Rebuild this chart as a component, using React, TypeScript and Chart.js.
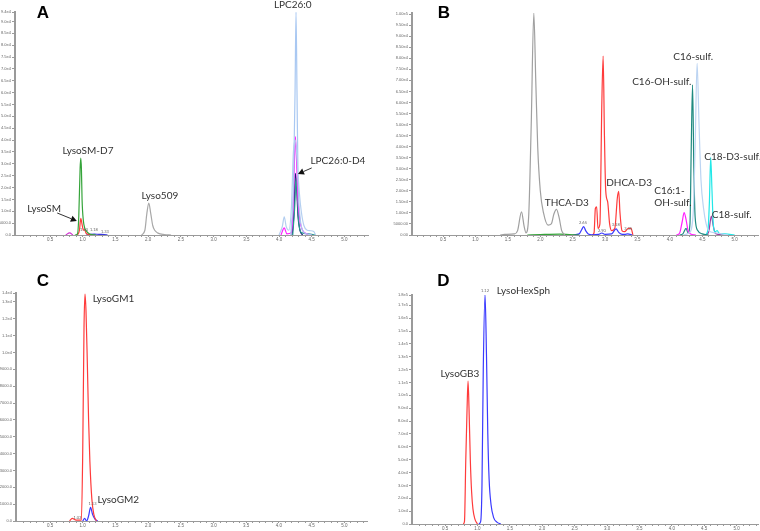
import React, { useEffect, useRef } from 'react';
import { Chart, registerables } from 'chart.js';
Chart.register(...registerables);

type P = [number, number][];

// ---------- Panel A traces (retention time min, intensity) ----------
const A_lpc26_broad: P = [[4.0,0],[4.05,3500],[4.08,7700],[4.11,3500],[4.15,2000],[4.19,12000],[4.22,35000],[4.25,40000],[4.28,30000],[4.31,18000],[4.34,10000],[4.38,4000],[4.43,2000],[4.48,1800],[4.53,1500],[4.56,0]];
const A_lpc26: P = [[4.18,0],[4.22,20000],[4.245,60000],[4.26,94000],[4.275,60000],[4.29,25000],[4.32,8000],[4.36,2000],[4.42,500],[4.5,0]];
const A_lysoSMD7: P = [[0.88,0],[0.92,500],[0.94,8000],[0.96,28000],[0.97,32400],[0.98,28000],[0.99,15000],[1.01,6000],[1.03,3000],[1.06,1500],[1.1,500],[1.15,100],[1.2,0]];
const A_lysoSM: P = [[0.92,0],[0.95,2000],[0.97,7000],[0.99,4500],[1.01,2000],[1.03,2300],[1.05,800],[1.1,200],[1.15,0]];
const A_magentaLow: P = [[0.74,0],[0.8,900],[0.85,0]];
const A_blueLow: P = [[1.05,0],[1.12,300],[1.18,400],[1.25,250],[1.33,200],[1.38,0]];
const A_lyso509: P = [[1.9,0],[1.95,2000],[1.98,9000],[2.01,13400],[2.04,9000],[2.07,4000],[2.1,2000],[2.15,800],[2.25,200],[2.35,0]];
const A_magenta: P = [[4.03,0],[4.08,3000],[4.12,500],[4.19,1000],[4.22,15000],[4.25,41500],[4.27,30000],[4.29,15000],[4.32,6000],[4.36,2000],[4.42,500],[4.5,0]];
const A_lpcD4: P = [[4.2,0],[4.23,10000],[4.25,26000],[4.27,20000],[4.29,8000],[4.32,2000],[4.36,0]];
const A_teal: P = [[4.21,0],[4.24,12000],[4.26,24000],[4.28,16000],[4.3,6000],[4.34,1000],[4.45,500],[4.55,0]];

// ---------- Panel B traces ----------
const B_gray: P = [[1.38,0],[1.45,300],[1.6,500],[1.65,2000],[1.71,10500],[1.75,4000],[1.78,1000],[1.82,8000],[1.86,50000],[1.9,100500],[1.93,70000],[1.96,40000],[2.0,20000],[2.05,10000],[2.12,4500],[2.17,5000],[2.21,9500],[2.25,11600],[2.29,8000],[2.33,2000],[2.38,0]];
const B_green: P = [[1.8,0],[2.0,200],[2.3,400],[2.45,200],[2.6,0]];
const B_blue: P = [[2.5,0],[2.6,500],[2.64,2500],[2.67,3800],[2.7,2000],[2.74,500],[2.8,100],[2.9,300],[2.95,900],[3.0,300],[3.1,500],[3.17,2800],[3.21,1200],[3.25,400],[3.3,300],[3.35,500],[3.42,0]];
const B_red: P = [[2.8,0],[2.83,1000],[2.85,12000],[2.87,12800],[2.89,3000],[2.92,5000],[2.95,60000],[2.97,81000],[2.99,45000],[3.01,20000],[3.04,15000],[3.07,5000],[3.1,2000],[3.15,3000],[3.19,17000],[3.21,19800],[3.23,10000],[3.26,2000],[3.3,1500],[3.36,3000],[3.4,3000],[3.43,0]];
const B_c16sulf: P = [[4.2,0],[4.3,1000],[4.36,10000],[4.39,40000],[4.42,77700],[4.45,50000],[4.48,25000],[4.52,12000],[4.56,5000],[4.6,2000],[4.7,1000],[4.8,500],[4.9,0]];
const B_c161oh: P = [[4.1,0],[4.15,800],[4.19,6000],[4.22,10100],[4.25,7000],[4.28,2000],[4.32,500],[4.4,0]];
const B_c16oh: P = [[4.15,0],[4.2,500],[4.25,3000],[4.28,1000],[4.31,5000],[4.33,40000],[4.35,68000],[4.37,30000],[4.39,8000],[4.43,2000],[4.5,500],[4.6,0]];
const B_c18d3: P = [[4.55,0],[4.59,3000],[4.61,15000],[4.63,35100],[4.65,20000],[4.67,5000],[4.7,1500],[4.73,2000],[4.76,800],[4.85,500],[5.0,0]];
const B_c18: P = [[4.55,0],[4.6,1500],[4.64,8500],[4.67,4000],[4.7,800],[4.75,300],[4.85,0]];

// ---------- Panel C traces ----------
const C_lysoGM1: P = [[0.8,0],[0.84,150],[0.9,50],[0.98,50],[1.0,4000],[1.02,11500],[1.035,13470],[1.05,12500],[1.07,9500],[1.09,6000],[1.11,3500],[1.14,1300],[1.17,400],[1.21,0]];
const C_lysoGM2: P = [[1.0,0],[1.03,150],[1.06,0],[1.09,300],[1.12,810],[1.15,400],[1.19,100],[1.23,0]];

// ---------- Panel D traces ----------
const D_lysoGB3: P = [[0.78,0],[0.8,2000],[0.82,50000],[0.84,90000],[0.855,111000],[0.87,90000],[0.89,50000],[0.91,25000],[0.93,12000],[0.96,4000],[1.0,0]];
const D_lysoHexSph: P = [[1.02,0],[1.05,2000],[1.07,30000],[1.09,120000],[1.117,178600],[1.14,130000],[1.16,70000],[1.18,35000],[1.21,15000],[1.25,5000],[1.3,1500],[1.36,0]];

// ---------- Tick values ----------
const A_YTICKS = [0,5000,10000,15000,20000,25000,30000,35000,40000,45000,50000,55000,60000,65000,70000,75000,80000,85000,90000,94000];
const B_YTICKS = [0,5000,10000,15000,20000,25000,30000,35000,40000,45000,50000,55000,60000,65000,70000,75000,80000,85000,90000,95000,100000];
const C_YTICKS = [0,1000,2000,3000,4000,5000,6000,7000,8000,9000,10000,11000,12000,13000,13530];
const D_YTICKS = [0,10000,20000,30000,40000,50000,60000,70000,80000,90000,100000,110000,120000,130000,140000,150000,160000,170000,178000];
const X_LABELS = [0.5,1.0,1.5,2.0,2.5,3.0,3.5,4.0,4.5,5.0];

interface Trace { data: P; color: string; }
interface Note { text: string; x: number; y: number; size?: number; align?: CanvasTextAlign; color?: string; }
interface Arrow { x1: number; y1: number; x2: number; y2: number; }
interface Panel {
  letter: string; letterX: number; letterY: number;
  left: number; top: number; w: number; h: number;
  yW: number; padTop: number; padRight: number; xH: number;
  xMin: number; xMax: number; yMax: number; yTicks: number[]; dec: number;
  traces: Trace[]; notes: Note[]; arrows: Arrow[];
}

const fmt = (d: number) => (v: number) => {
  if (v < 10000) return v.toFixed(d);
  const e = Math.floor(Math.log10(v) + 1e-9);
  return (v / Math.pow(10, e)).toFixed(d) + 'e' + e;
};

const PANELS: Panel[] = [
  {
    letter: 'A', letterX: 43, letterY: 18,
    left: 0, top: 0, w: 380, h: 265, yW: 15, padTop: 12, padRight: 12, xH: 30,
    xMin: -0.035, xMax: 5.36, yMax: 94000, yTicks: A_YTICKS, dec: 1,
    traces: [
      { data: A_lpc26_broad, color: '#b4cff0' },
      { data: A_lpc26, color: '#a9c8f2' },
      { data: A_lyso509, color: '#a8a8a8' },
      { data: A_lysoSMD7, color: '#35a43a' },
      { data: A_lysoSM, color: '#ff3b3b' },
      { data: A_magentaLow, color: '#d030d0' },
      { data: A_blueLow, color: '#3a3ae0' },
      { data: A_magenta, color: '#ff20ff' },
      { data: A_teal, color: '#2a9d8f' },
      { data: A_lpcD4, color: '#1c1c7a' },
    ],
    notes: [
      { text: 'LPC26:0', x: 4.21, y: 97000 },
      { text: 'LysoSM-D7', x: 1.08, y: 35440 },
      { text: 'Lyso509', x: 2.18, y: 16460 },
      { text: 'LysoSM', x: 0.41, y: 10970 },
      { text: 'LPC26:0-D4', x: 4.9, y: 31220 },
      { text: '1.10', x: 1.02, y: 2100, size: 4, color: '#666' },
      { text: '1.18', x: 1.17, y: 2100, size: 4, color: '#666' },
      { text: '1.33', x: 1.34, y: 1300, size: 4, color: '#666' },
    ],
    arrows: [
      { x1: 0.61, y1: 9280, x2: 0.91, y2: 5900 },
      { x1: 4.5, y1: 28270, x2: 4.29, y2: 25740 },
    ],
  },
  {
    letter: 'B', letterX: 64, letterY: 18,
    left: 380, top: 0, w: 380, h: 265, yW: 32, padTop: 13, padRight: 2, xH: 30,
    xMin: 0.02, xMax: 5.36, yMax: 100500, yTicks: B_YTICKS, dec: 2,
    traces: [
      { data: B_gray, color: '#a0a0a0' },
      { data: B_green, color: '#35a43a' },
      { data: B_c16sulf, color: '#bcd4f2' },
      { data: B_blue, color: '#3a3aff' },
      { data: B_red, color: '#ff3b3b' },
      { data: B_c161oh, color: '#ff20ff' },
      { data: B_c16oh, color: '#1f8a80' },
      { data: B_c18d3, color: '#22e8e8' },
      { data: B_c18, color: '#a03ca0' },
    ],
    notes: [
      { text: 'THCA-D3', x: 2.41, y: 14480 },
      { text: 'DHCA-D3', x: 3.37, y: 23530 },
      { text: 'C16-OH-sulf.', x: 3.875, y: 69230 },
      { text: 'C16-sulf.', x: 4.36, y: 80540 },
      { text: 'C18-D3-sulf.', x: 4.97, y: 35290 },
      { text: 'C16:1-', x: 3.76, y: 19910, align: 'left' },
      { text: 'OH-sulf.', x: 3.76, y: 14480, align: 'left' },
      { text: 'C18-sulf.', x: 4.955, y: 9050 },
      { text: '2.65', x: 2.66, y: 5570, size: 4, color: '#666' },
      { text: '2.90', x: 2.95, y: 1950, size: 4, color: '#666' },
      { text: '3.18', x: 3.165, y: 4520, size: 4, color: '#666' },
      { text: '3.35', x: 3.355, y: 2850, size: 4, color: '#666' },
    ],
    arrows: [],
  },
  {
    letter: 'C', letterX: 43, letterY: 21,
    left: 0, top: 265, w: 380, h: 266, yW: 16, padTop: 28, padRight: 13, xH: 10,
    xMin: -0.02, xMax: 5.347, yMax: 13530, yTicks: C_YTICKS, dec: 1,
    traces: [
      { data: C_lysoGM1, color: '#ff3b3b' },
      { data: C_lysoGM2, color: '#3a3aff' },
    ],
    notes: [
      { text: 'LysoGM1', x: 1.47, y: 13210 },
      { text: 'LysoGM2', x: 1.544, y: 1280 },
      { text: '1.03', x: 0.92, y: 220, size: 4, color: '#666' },
      { text: '1.13', x: 1.15, y: 1000, size: 4, color: '#666' },
    ],
    arrows: [],
  },
  {
    letter: 'D', letterX: 63.5, letterY: 21,
    left: 380, top: 265, w: 380, h: 266, yW: 32, padTop: 30, padRight: 2, xH: 7,
    xMin: -0.01, xMax: 5.33, yMax: 178000, yTicks: D_YTICKS, dec: 1,
    traces: [
      { data: D_lysoGB3, color: '#ff3b3b' },
      { data: D_lysoHexSph, color: '#3a3aff' },
    ],
    notes: [
      { text: 'LysoGB3', x: 0.73, y: 116770 },
      { text: 'LysoHexSph', x: 1.71, y: 181200 },
      { text: '1.12', x: 1.117, y: 181000, size: 4, color: '#666' },
    ],
    arrows: [],
  },
];

function PanelChart({ p }: { p: Panel }) {
  const ref = useRef<HTMLCanvasElement>(null);
  useEffect(() => {
    const notesPlugin = {
      id: 'notes',
      afterDraw(chart: any) {
        const ctx = chart.ctx as CanvasRenderingContext2D;
        const xs = chart.scales.x, ys = chart.scales.y;
        ctx.save();
        ctx.fillStyle = '#000';
        ctx.font = 'bold 17px "Liberation Sans", Arial, sans-serif';
        ctx.textAlign = 'center';
        ctx.textBaseline = 'alphabetic';
        ctx.fillText(p.letter, p.letterX, p.letterY);
        for (const n of p.notes) {
          ctx.font = `${n.size ?? 10}px Lato, "Open Sans", sans-serif`;
          ctx.fillStyle = n.color ?? '#333';
          ctx.textAlign = n.align ?? 'center';
          ctx.textBaseline = 'middle';
          ctx.fillText(n.text, xs.getPixelForValue(n.x), ys.getPixelForValue(n.y));
        }
        ctx.strokeStyle = '#333';
        ctx.fillStyle = '#111';
        ctx.lineWidth = 1;
        for (const a of p.arrows) {
          const x1 = xs.getPixelForValue(a.x1), y1 = ys.getPixelForValue(a.y1);
          const x2 = xs.getPixelForValue(a.x2), y2 = ys.getPixelForValue(a.y2);
          const ang = Math.atan2(y2 - y1, x2 - x1);
          const L = 6, W = 3.2;
          const bx = x2 - L * Math.cos(ang), by = y2 - L * Math.sin(ang);
          ctx.beginPath();
          ctx.moveTo(x1, y1);
          ctx.lineTo(bx, by);
          ctx.stroke();
          ctx.beginPath();
          ctx.moveTo(x2, y2);
          ctx.lineTo(bx + W * Math.sin(ang), by - W * Math.cos(ang));
          ctx.lineTo(bx - W * Math.sin(ang), by + W * Math.cos(ang));
          ctx.closePath();
          ctx.fill();
        }
        ctx.restore();
      },
    };
    const minor: number[] = [];
    for (let k = 1; k / 10 < p.xMax; k++) minor.push(k / 10);
    const chart = new Chart(ref.current!, {
      type: 'line',
      data: {
        datasets: p.traces.map((t) => ({
          data: t.data.map(([x, y]) => ({ x, y })),
          borderColor: t.color,
          borderWidth: 1.2,
          pointRadius: 0,
          fill: false,
          cubicInterpolationMode: 'monotone' as const,
        })),
      },
      options: {
        animation: false,
        responsive: false,
        events: [],
        layout: { padding: { left: 0, top: p.padTop, right: p.padRight, bottom: 0 } },
        plugins: { legend: { display: false }, tooltip: { enabled: false } },
        scales: {
          x: {
            type: 'linear',
            min: p.xMin,
            max: p.xMax,
            afterBuildTicks: (s: any) => { s.ticks = minor.map((v) => ({ value: v })); },
            afterFit: (s: any) => { s.height = p.xH; s.paddingLeft = 0; s.paddingRight = 0; },
            ticks: {
              autoSkip: false,
              maxRotation: 0,
              padding: 0,
              color: '#666',
              font: { size: 4.5, family: '"Liberation Sans", Arial' },
              callback: (v: any) => {
                const r = Math.round(Number(v) * 10);
                return X_LABELS.some((l) => Math.round(l * 10) === r) ? (r / 10).toFixed(1) : '';
              },
            },
            grid: { drawOnChartArea: false, drawTicks: true, tickLength: 2, color: '#9a9a9a' },
            border: { display: true, color: '#9a9a9a', width: 1 },
          },
          y: {
            type: 'linear',
            min: 0,
            max: p.yMax,
            afterBuildTicks: (s: any) => { s.ticks = p.yTicks.map((v) => ({ value: v })); },
            afterFit: (s: any) => { s.width = p.yW; s.paddingTop = 0; s.paddingBottom = 0; },
            ticks: {
              autoSkip: false,
              padding: 1,
              color: '#666',
              font: { size: 4, family: '"Liberation Sans", Arial' },
              callback: (v: any) => fmt(p.dec)(Number(v)),
            },
            grid: { drawOnChartArea: false, drawTicks: true, tickLength: 3, color: '#9a9a9a' },
            border: { display: true, color: '#9a9a9a', width: 2 },
          },
        },
      },
      plugins: [notesPlugin],
    } as any);
    return () => chart.destroy();
  }, [p]);
  return (
    <canvas
      ref={ref}
      width={p.w}
      height={p.h}
      style={{ position: 'absolute', left: p.left, top: p.top, width: p.w, height: p.h }}
    />
  );
}

export default function App() {
  return (
    <div style={{ position: 'fixed', left: 0, top: 0, width: 760, height: 531, background: '#fff', overflow: 'hidden' }}>
      {PANELS.map((p) => (
        <PanelChart key={p.letter} p={p} />
      ))}
    </div>
  );
}
